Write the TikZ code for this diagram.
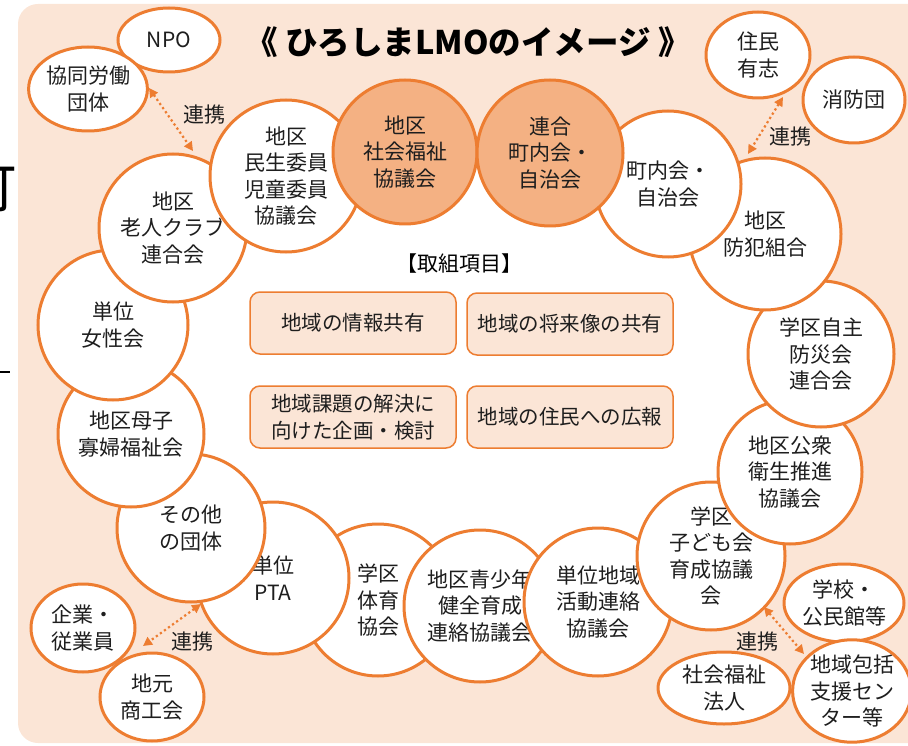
\documentclass[tikz,border=0pt]{standalone}
\usepackage{fontspec}
\setmainfont{Noto Sans CJK JP}
\usetikzlibrary{positioning, shapes.geometric, arrows.meta}
\definecolor{lmoorange}{HTML}{ED7D31}
\definecolor{lmopeach}{HTML}{FBE5D6}
\definecolor{lmosalmon}{HTML}{F4B183}
\definecolor{lmotext}{HTML}{1E1E1E}

\begin{document}
\begin{tikzpicture}[x=1pt, y=-1pt,
    orgcircle/.style={circle, draw=lmoorange, line width=3pt, fill=white, minimum size=#1, inner sep=0pt, align=center, text=lmotext, font=\fontsize{21}{26.5}\selectfont},
    corecircle/.style={orgcircle=#1, fill=lmosalmon},
    partner/.style={ellipse, draw=lmoorange, line width=3pt, fill=white, inner sep=0pt, align=center, text=lmotext, font=\fontsize{21}{26.5}\selectfont},
    taskbox/.style={rectangle, rounded corners=10pt, draw=lmoorange, line width=1.5pt, fill=lmopeach, minimum width=206pt, minimum height=62pt, align=center, text=lmotext, font=\fontsize{20.5}{26.5}\selectfont},
    linkarrow/.style={{Triangle[length=9pt,width=9pt]}-{Triangle[length=9pt,width=9pt]}, draw=lmoorange, line width=2.2pt, dash pattern=on 2.2pt off 2.8pt},
    linktext/.style={text=lmotext, font=\fontsize{21}{24}\selectfont}]
  \useasboundingbox (0,0) rectangle (908,746);

  \begin{scope}
    \clip (0,0) rectangle (18,746);
    \node[anchor=east, inner sep=0pt, font=\fontsize{56}{56}\selectfont] (cut) at (17,188) {町};
  \end{scope}
  \draw[line width=2pt] (0,372) -- (10,372);

  \fill[lmopeach, rounded corners=20pt] (18,4) rectangle (940,743);
  \fill[white] (286,176) -- (405,152) -- (550,153) -- (668,184) -- (765,233) -- (821,350)
    -- (790,472) -- (712,552) -- (598,602) -- (480,606) -- (378,600) -- (273,578)
    -- (191,525) -- (131,430) -- (113,321) -- (173,228) -- cycle;

  \node (title) at (468,42) {\fontsize{32.5}{36}\selectfont\bfseries 《 ひろしまLMOのイメージ 》};

  \node[orgcircle=152] (taiiku) at (378,600) {学区\\体育\\協会};
  \node[orgcircle=152] (pta) at (273,578) {単位\\PTA};
  \node[orgcircle=148] (sonota) at (191,528) {その他\\の団体};
  \node[orgcircle=146] (boshi) at (131,434) {地区母子\\寡婦福祉会};
  \node[orgcircle=150] (josei) at (113,325) {単位\\女性会};
  \node[orgcircle=148] (rojin) at (173,228) {地区\\老人クラブ\\連合会};
  \node[orgcircle=152] (minsei) at (286,176) {地区\\民生委員\\児童委員\\協議会};
  \node[corecircle=144] (shakyo) at (405,152) {地区\\社会福祉\\協議会};
  \node[orgcircle=152] (seishonen) at (480,606) {地区青少年\\健全育成\\連絡協議会};
  \node[orgcircle=148] (katsudo) at (598,602) {単位地域\\活動連絡\\協議会};
  \node[orgcircle=148] (kodomo) at (711,556) {学区\\子ども会\\育成協議\\会};
  \node[orgcircle=144] (eisei) at (790,472) {地区公衆\\衛生推進\\協議会};
  \node[orgcircle=146] (bosai) at (821,354) {学区自主\\防災会\\連合会};
  \node[orgcircle=152] (bohan) at (765,234) {地区\\防犯組合};
  \node[orgcircle=146] (chonai) at (668,184) {町内会・\\自治会};
  \node[corecircle=146] (rengo) at (550,153) {連合\\町内会・\\自治会};

  \node (heading) at (459,264) {\fontsize{21}{24}\selectfont 【取組項目】};
  \node[taskbox] (joho) at (353,323) {地域の情報共有};
  \node[taskbox] (shorai) at (570,324) {地域の将来像の共有};
  \node[taskbox] (kadai) at (353,417) {地域課題の解決に\\向けた企画・検討};
  \node[taskbox] (koho) at (570,417) {地域の住民への広報};

  \node[partner, minimum width=102pt, minimum height=64pt] (npo) at (169,40) {NPO};
  \node[partner, minimum width=118pt, minimum height=84pt] (kyodo) at (88,89) {協同労働\\団体};
  \node[partner, minimum width=104pt, minimum height=86pt] (jumin) at (758,55) {住民\\有志};
  \node[partner, minimum width=102pt, minimum height=86pt] (shobo) at (854,100) {消防団};
  \node[partner, minimum width=104pt, minimum height=88pt] (kigyo) at (83,628) {企業・\\従業員};
  \node[partner, minimum width=104pt, minimum height=88pt] (jimoto) at (152,697) {地元\\商工会};
  \node[partner, minimum width=120pt, minimum height=78pt] (gakko) at (844,603) {学校・\\公民館等};
  \node[partner, minimum width=132pt, minimum height=72pt] (fukushi) at (724,688) {社会福祉\\法人};
  \node[partner, minimum width=116pt, minimum height=82pt] (hokatsu) at (852,691) {地域包括\\支援セン\\ター等};

  \coordinate (tlA) at (149,88);
  \coordinate (tlB) at (193,151);
  \coordinate (trA) at (783,97);
  \coordinate (trB) at (748,154);
  \coordinate (blA) at (201,604);
  \coordinate (blB) at (143,646);
  \coordinate (brA) at (764,607);
  \coordinate (brB) at (804,654);
  \draw[linkarrow] (tlA) -- (tlB);
  \draw[linkarrow] (trA) -- (trB);
  \draw[linkarrow] (blA) -- (blB);
  \draw[linkarrow] (brA) -- (brB);
  \node[linktext] (tlText) at (204,115) {連携};
  \node[linktext] (trText) at (790,137) {連携};
  \node[linktext] (blText) at (192,642) {連携};
  \node[linktext] (brText) at (757,642) {連携};
\end{tikzpicture}
\end{document}
